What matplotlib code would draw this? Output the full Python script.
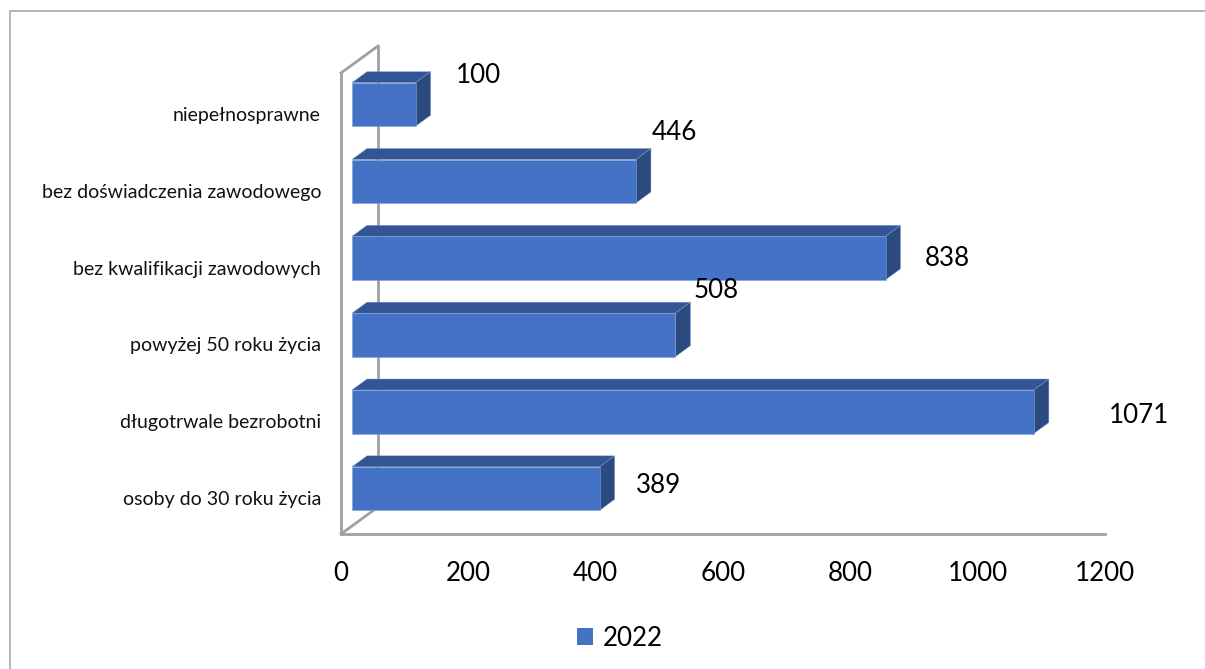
import matplotlib
matplotlib.use("Agg")
import matplotlib.pyplot as plt
from matplotlib.patches import Patch, Polygon
from matplotlib.lines import Line2D
from matplotlib.transforms import ScaledTranslation

categories = ["osoby do 30 roku życia", "długotrwale bezrobotni", "powyżej 50 roku życia",
              "bez kwalifikacji zawodowych", "bez doświadczenia zawodowego", "niepełnosprawne"]
values = [389, 1071, 508, 838, 446, 100]
series_name = "2022"
x_ticks = [0, 200, 400, 600, 800, 1000, 1200]

# label offsets from the bar end, pixels
label_offsets = [(69.5, 10), (116.5, 3), (52, 51), (73, 7), (49, 56), (73.5, 36)]

W, H = 1205, 669
plt.rcParams['font.family'] = ['Lato', 'DejaVu Sans']
fig = plt.figure(figsize=(W / 100, H / 100), dpi=100)

L, R, T, B = 341, 1105, 73, 534
ax = fig.add_axes([L / W, 1 - B / H, (R - L) / W, (B - T) / H])
ax.set_xlim(0, 1200)
ax.set_ylim(-0.5, 5.5)
ax.patch.set_alpha(0)

FRONT, TOP, SIDE, EDGE, WALL = '#4472C4', '#345594', '#2B4A80', '#7F9FD6', '#A0A0A0'
px_x = 1200 / (R - L)
px_y = 6 / (B - T)
sx, sy = 11 * px_x, 7 * px_y      # bar shift from the front plane
dx, dy = 15 * px_x, 11 * px_y     # bar depth
bar_h = 43.5 * px_y

# walls
for s in ('top', 'right'):
    ax.spines[s].set_visible(False)
for s in ('left', 'bottom'):
    ax.spines[s].set_color(WALL)
    ax.spines[s].set_linewidth(2)
wx, wy = 37 / (R - L), 27 / (B - T)
for xs, ys in [([wx, wx], [wy, 1 + wy]), ([0, wx], [1, 1 + wy]), ([0, wx], [0, wy])]:
    ax.plot(xs, ys, transform=ax.transAxes, color=WALL, lw=2, clip_on=False, zorder=1)

# bars
for i, v in enumerate(values):
    y0, y1 = i + sy - bar_h / 2, i + sy + bar_h / 2
    x0, x1 = sx, v + sx
    ax.barh(i + sy, v, left=sx, height=bar_h, color=FRONT, edgecolor=EDGE, lw=0.4, zorder=3)
    ax.add_patch(Polygon([(x0, y1), (x1, y1), (x1 + dx, y1 + dy), (x0 + dx, y1 + dy)],
                         fc=TOP, ec=EDGE, lw=0.3, zorder=2, clip_on=False))
    ax.add_patch(Polygon([(x1, y0), (x1 + dx, y0 + dy), (x1 + dx, y1 + dy), (x1, y1)],
                         fc=SIDE, ec=EDGE, lw=0.3, zorder=2, clip_on=False))
    ox, oy = label_offsets[i]
    ax.annotate(str(v), xy=(v, i), xytext=(ox * 0.72, oy * 0.72), textcoords='offset points',
                ha='center', va='center', fontsize=18.7, color='black', zorder=5)

ax.set_yticks(range(len(categories)), categories, fontsize=14, color='#111111')
ax.set_xticks(x_ticks, [str(t) for t in x_ticks], fontsize=18.7, color='black')
ax.tick_params(axis='y', length=0, pad=14.4)
ax.tick_params(axis='x', length=0, pad=19.5)
down = ScaledTranslation(0, -2.5 / 100, fig.dpi_scale_trans)
for lab in ax.get_yticklabels():
    lab.set_transform(lab.get_transform() + down)

leg = fig.legend(handles=[Patch(fc=FRONT, ec='none', label=series_name)],
                 loc='center', bbox_to_anchor=(620 / W, 1 - 638 / H), frameon=False,
                 fontsize=18.7, handlelength=0.62, handleheight=0.62, handletextpad=0.4)

# outer chart frame
fig.add_artist(Line2D([9.5 / W, 9.5 / W, 1], [0, 1 - 10.5 / H, 1 - 10.5 / H], color=WALL, lw=1.1))

fig.savefig("out.png", dpi=100)
